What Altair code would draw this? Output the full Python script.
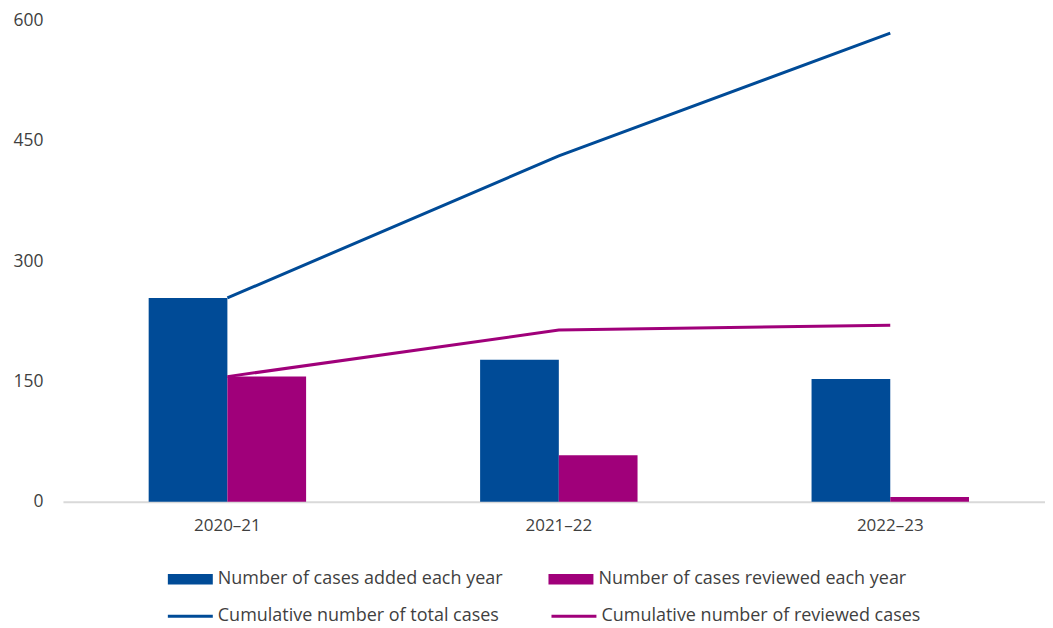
import altair as alt
import pandas as pd

years = ["2020–21", "2021–22", "2022–23"]
added = [254, 177, 153]
reviewed = [156, 58, 6]
cum_total = [254, 431, 584]
cum_reviewed = [156, 214, 220]

bar_names = ["Number of cases added each year", "Number of cases reviewed each year"]
line_names = ["Cumulative number of total cases", "Cumulative number of reviewed cases"]
y_ticks = [0, 150, 300, 450, 600]

blue = "#004B97"
magenta = "#A0007A"
font = "Open Sans"
text_color = "#3F3F3F"

bars_df = pd.DataFrame({
    "year": years * 2,
    "series": [bar_names[0]] * 3 + [bar_names[1]] * 3,
    "value": added + reviewed,
})
lines_df = pd.DataFrame({
    "year": years * 2,
    "series": [line_names[0]] * 3 + [line_names[1]] * 3,
    "value": cum_total + cum_reviewed,
})

x_enc = alt.X(
    "year:N", sort=years, title=None,
    scale=alt.Scale(paddingInner=0.525, paddingOuter=0.244, align=0.53),
    axis=alt.Axis(labelAngle=0, ticks=False, domainColor="#D9D9D9", domainWidth=2,
                  labelFontSize=17, labelColor=text_color, labelFont=font, labelPadding=16),
)
y_enc = alt.Y(
    "value:Q", title=None,
    scale=alt.Scale(domain=[0, 600], nice=False),
    axis=alt.Axis(values=y_ticks, grid=False, domain=False, ticks=False,
                  labelFontSize=17.5, labelColor=text_color, labelFont=font, labelPadding=20),
)

bar_legend = alt.Legend(
    title=None, orient="none", direction="horizontal", legendX=118.5, legendY=550.5,
    symbolType="M-3.75,-0.875L3.75,-0.875L3.75,0.875L-3.75,0.875Z", symbolSize=144,
    symbolStrokeWidth=0,
    labelOffset=18.5, labelFontSize=18, labelFont=font, labelColor=text_color,
    columnPadding=45, labelLimit=500,
)
line_legend = alt.Legend(
    title=None, orient="none", direction="horizontal", legendX=118.5, legendY=587.5,
    symbolType="M-3.75,0L3.75,0", symbolSize=144, symbolStrokeWidth=3,
    labelOffset=18.5, labelFontSize=18, labelFont=font, labelColor=text_color,
    columnPadding=45, labelLimit=500,
)

bars = alt.Chart(bars_df).mark_bar().encode(
    x=x_enc,
    xOffset=alt.XOffset("series:N", sort=bar_names,
                        scale=alt.Scale(domain=bar_names, paddingInner=0, paddingOuter=0)),
    y=y_enc,
    fill=alt.Fill("series:N", scale=alt.Scale(domain=bar_names, range=[blue, magenta]),
                  legend=bar_legend),
)

lines = alt.Chart(lines_df).mark_line(strokeWidth=3).encode(
    x=x_enc,
    y=y_enc,
    stroke=alt.Stroke("series:N", scale=alt.Scale(domain=line_names, range=[blue, magenta]),
                      legend=line_legend),
)

chart = alt.layer(bars, lines).properties(
    width=983, height=482,
    padding={"left": 4, "top": 3, "right": 0, "bottom": 0},
).configure_view(stroke=None)

chart.save("out.html", embed_options={"renderer": "svg", "actions": False})
